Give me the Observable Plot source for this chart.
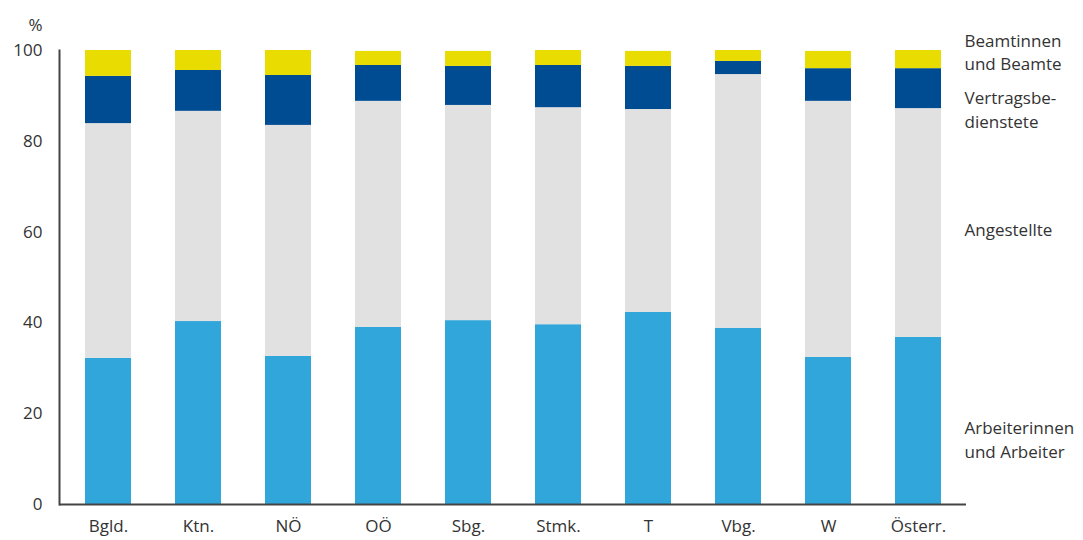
<!DOCTYPE html>
<html>
<head>
<meta charset="utf-8">
<script src="https://cdn.jsdelivr.net/npm/d3@7"></script>
<script src="https://cdn.jsdelivr.net/npm/@observablehq/plot@0.6"></script>
<style>
  html, body { margin: 0; padding: 0; background: #fff; }
  #chart svg { display: block; }
</style>
</head>
<body>
<div id="chart"></div>
<script>
const categories = ["Bgld.", "Ktn.", "NÖ", "OÖ", "Sbg.", "Stmk.", "T", "Vbg.", "W", "Österr."];
const series = ["Arbeiterinnen und Arbeiter", "Angestellte", "Vertragsbedienstete", "Beamtinnen und Beamte"];
const arbeiter      = [32.2, 40.3, 32.6, 39.0, 40.5, 39.6, 42.3, 38.8, 32.4, 36.8];
const angestellte   = [51.7, 46.3, 50.9, 49.8, 47.4, 47.8, 44.7, 55.9, 56.4, 50.4];
const vertrags      = [10.4,  9.0, 11.0,  7.9,  8.6,  9.3,  9.5,  2.9,  7.2,  8.8];
const beamte        = [ 5.7,  4.4,  5.5,  3.1,  3.3,  3.3,  3.3,  2.4,  3.8,  4.0];
const seriesLabels  = ["Arbeiterinnen\nund Arbeiter", "Angestellte", "Vertragsbe-\ndienstete", "Beamtinnen\nund Beamte"];
const labelValues   = [14.5, 60.8, 87.2, 99.9];
const yTicks = [0, 20, 40, 60, 80, 100];
const yUnit = "%";
const colors = ["#30A6DA", "#E1E1E1", "#004C93", "#E8DC00"];

const valuesBySeries = [arbeiter, angestellte, vertrags, beamte];
const rows = [];
categories.forEach((c, i) => {
  series.forEach((s, k) => rows.push({category: c, series: s, value: valuesBySeries[k][i]}));
});
const labelRows = series.map((s, k) => ({text: seriesLabels[k], y: labelValues[k]}));

const chart = Plot.plot({
  width: 1083,
  height: 540,
  marginLeft: 59,
  marginRight: 117,
  marginTop: 50,
  marginBottom: 36,
  style: {fontFamily: "'Open Sans', sans-serif", fontSize: "17px", color: "#333", background: "#fff"},
  x: {domain: categories, paddingInner: 0.49, paddingOuter: 0.25, label: null},
  y: {domain: [0, 100], label: null},
  color: {domain: series, range: colors},
  marks: [
    Plot.barY(rows, {x: "category", y: "value", fill: "series", order: null}),
    Plot.axisX({tickSize: 0, tickPadding: 15, fontSize: 17, label: null}),
    Plot.axisY({ticks: yTicks, tickSize: 0, tickPadding: 17, fontSize: 17, label: null}),
    Plot.text([yUnit], {text: d => d, frameAnchor: "top-left", textAnchor: "end", dx: -17, dy: -32, fontSize: 17, fill: "#333"}),
    Plot.ruleY([0], {stroke: "#444", strokeWidth: 2}),
    Plot.frame({anchor: "left", stroke: "#444", strokeWidth: 2}),
    Plot.text(labelRows, {y: "y", text: "text", frameAnchor: "right", textAnchor: "start", dx: -2, lineHeight: 1.38, fontSize: 17, fill: "#333"})
  ]
});
document.getElementById("chart").appendChild(chart);
</script>
</body>
</html>
